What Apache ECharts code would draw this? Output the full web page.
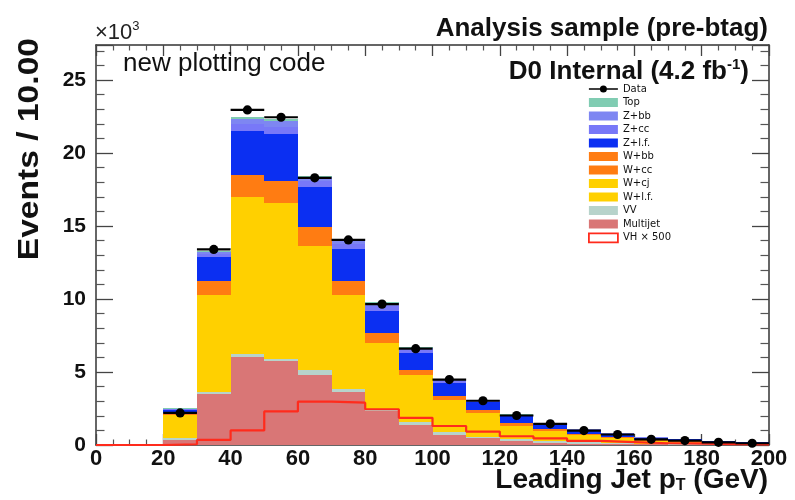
<!DOCTYPE html>
<html><head><meta charset="utf-8">
<script src="https://cdn.jsdelivr.net/npm/echarts@6/dist/echarts.min.js"></script>
<style>html,body{margin:0;padding:0;background:#fff}#c{width:795px;height:500px}</style>
</head><body><div id="c"></div>
<script>
// ---- data (units of 10^3 events per 10 GeV bin) ----
const binLow = [0,10,20,30,40,50,60,70,80,90,100,110,120,130,140,150,160,170,180,190];
const binWidth = 10;
const multijet = [0,0,0.35,3.5,6.0,5.75,4.8,3.6,2.3,1.4,0.7,0.45,0.25,0.16,0.1,0.07,0.05,0.03,0.02,0.015];
const vv       = [0,0,0.1,0.1,0.2,0.15,0.35,0.25,0.2,0.2,0.2,0.12,0.15,0.12,0.08,0.05,0.03,0.02,0.02,0.01];
const wlf      = [0,0,1.0,5.0,8.1,8.0,6.3,4.8,3.4,2.4,1.65,1.22,0.7,0.53,0.37,0.27,0.15,0.09,0.06,0.045];
const wcj      = [0,0,0.6,1.7,2.7,2.7,2.15,1.65,1.1,0.8,0.55,0.41,0.23,0.18,0.12,0.09,0.05,0.03,0.02,0.015];
const wcc      = [0,0,0.1,0.6,1.0,1.0,0.85,0.6,0.45,0.25,0.15,0.11,0.11,0.07,0.06,0.05,0.04,0.04,0.035,0.03];
const wbb      = [0,0,0.05,0.3,0.5,0.5,0.45,0.3,0.25,0.12,0.08,0.06,0.06,0.04,0.03,0.03,0.03,0.03,0.025,0.02];
const zlf      = [0,0,0.2,1.7,3.0,3.2,2.8,2.25,1.5,1.13,0.94,0.58,0.5,0.38,0.28,0.21,0.15,0.15,0.1,0.07];
const zcc      = [0,0,0.05,0.2,0.5,0.5,0.35,0.3,0.3,0.2,0.13,0.07,0.05,0.03,0.02,0.015,0.01,0.01,0.01,0.005];
const zbb      = [0,0,0.05,0.15,0.35,0.4,0.3,0.3,0.25,0.15,0.1,0.05,0.03,0.02,0.01,0.01,0.01,0.01,0.005,0.005];
const topq     = [0,0,0.02,0.05,0.1,0.1,0.05,0.05,0.05,0.05,0.05,0.03,0.02,0.01,0.01,0.005,0.01,0.01,0.005,0.005];
const dataObs  = [null,null,2.2,13.4,22.95,22.45,18.3,14.05,9.65,6.6,4.48,3.03,2.02,1.45,0.99,0.72,0.39,0.3,0.18,0.12];
const vhx500   = [0,0,0.05,0.35,1.0,2.3,2.97,2.9,2.45,1.86,1.3,0.92,0.6,0.45,0.28,0.2,0.12,0.09,0.06,0.04];
const yMax = 27.4;

// stack order bottom -> top
const stackNames = ['Multijet','VV','W+l.f.','W+cj','W+cc','W+bb','Z+l.f.','Z+cc','Z+bb','Top'];
const stackData  = [multijet, vv, wlf, wcj, wcc, wbb, zlf, zcc, zbb, topq];
const stackColors= ['#d97676','#b7d3cb','#ffd000','#ffd000','#ff7c12','#ff7c12','#0b2ff2','#7878f8','#7e86f2','#80ccb2'];
const legendOrder = ['Data','Top','Z+bb','Z+cc','Z+l.f.','W+bb','W+cc','W+cj','W+l.f.','VV','Multijet','VH \u00d7 500'];

const FONT = '"Liberation Sans", Arial, Helvetica, sans-serif';
const chart = echarts.init(document.getElementById('c'), null, {renderer:'canvas'});

// stacked histogram: each component is a custom series of [lo, hi, base, top]
const base = binLow.map(() => 0);
function histRect(params, api) {
  const p0 = api.coord([api.value(0), api.value(2)]);
  const p1 = api.coord([api.value(1), api.value(3)]);
  const x0 = Math.round(p0[0]), x1 = Math.round(p1[0]);
  const y0 = Math.round(p0[1]), y1 = Math.round(p1[1]);
  if (y0 - y1 <= 0) return null;
  return { type: 'rect', shape: { x: x0, y: y1, width: x1 - x0, height: y0 - y1 },
           style: { fill: api.visual('color') } };
}
const series = stackNames.map((n, i) => {
  const rows = binLow.map((x, b) => {
    const r = [x, x + binWidth, base[b], base[b] + stackData[i][b]];
    base[b] += stackData[i][b];
    return r;
  });
  return { name: n, type: 'custom', xAxisIndex: 0, yAxisIndex: 0, z: 2, animation: false,
    itemStyle: { color: stackColors[i] }, data: rows, renderItem: histRect };
});

// VH x 500 outline (step)
const vhLine = binLow.map((x, i) => [x, vhx500[i]]);
vhLine.push([binLow[binLow.length-1] + binWidth, vhx500[vhx500.length-1]]);
vhLine.push([binLow[binLow.length-1] + binWidth, 0]);
series.push({
  name: 'VH \u00d7 500', type: 'line', step: 'end', xAxisIndex: 0, yAxisIndex: 0,
  symbol: 'none', data: vhLine, z: 5, animation: false,
  lineStyle: { color: '#ff2b1c', width: 2.2 }, itemStyle: { color: '#ff2b1c' }
});

// Data points with horizontal bin-width bars
const dataPts = [];
binLow.forEach((x, i) => { if (dataObs[i] != null) dataPts.push([x, x + binWidth, dataObs[i]]); });
series.push({
  name: 'Data', type: 'custom', xAxisIndex: 0, yAxisIndex: 0, z: 6, animation: false,
  itemStyle: { color: '#000' },
  data: dataPts,
  renderItem: function (params, api) {
    const a = api.coord([api.value(0), api.value(2)]);
    const b = api.coord([api.value(1), api.value(2)]);
    const c = api.coord([(api.value(0) + api.value(1)) / 2, api.value(2)]);
    return { type: 'group', children: [
      { type: 'line', shape: { x1: a[0], y1: a[1], x2: b[0], y2: b[1] }, style: { stroke: '#000', lineWidth: 2.2 } },
      { type: 'circle', shape: { cx: c[0], cy: c[1], r: 4.6 }, style: { fill: '#000' } }
    ]};
  }
});

const axisLineStyle = { color: '#333', width: 1.5 };
const legendData = legendOrder.map(n => {
  if (n === 'Data') return { name: n, icon: 'path://M0,0H0.01V0.01H0Z M0,8.99H0.01V9H0Z M0,3.8H29V5.2H0Z M14.5,1A3.5,3.5,0,1,1,14.5,8A3.5,3.5,0,1,1,14.5,1Z' };
  if (n.indexOf('VH') === 0) return { name: n, icon: 'rect', itemStyle: { color: '#fff', borderColor: '#ff2b1c', borderWidth: 1.8 } };
  return { name: n, icon: 'rect' };
});

chart.setOption({
  backgroundColor: '#fff',
  animation: false,
  grid: { left: 96, right: 26, top: 45, bottom: 55, containLabel: false },
  xAxis: [
    { type: 'value', min: 0, max: 200, interval: 20, position: 'bottom',
      axisLine: { show: true, onZero: false, lineStyle: axisLineStyle },
      axisTick: { show: true, inside: true, length: 11, lineStyle: { color: '#444', width: 1.3 } },
      minorTick: { show: true, splitNumber: 4, length: 5.5, lineStyle: { color: '#555', width: 1.2 } },
      axisLabel: { show: true, margin: 3, fontFamily: FONT, fontSize: 22, fontWeight: 'bold', color: '#111' },
      splitLine: { show: false }, minorSplitLine: { show: false } },
    { type: 'value', min: 0, max: 200, interval: 20, position: 'top',
      axisLine: { show: true, onZero: false, lineStyle: axisLineStyle },
      axisTick: { show: true, inside: true, length: 11, lineStyle: { color: '#444', width: 1.3 } },
      minorTick: { show: true, splitNumber: 4, length: 5.5, lineStyle: { color: '#555', width: 1.2 } },
      axisLabel: { show: false }, splitLine: { show: false } }
  ],
  yAxis: [
    { type: 'value', min: 0, max: yMax, interval: 5, position: 'left',
      axisLine: { show: true, onZero: false, lineStyle: axisLineStyle },
      axisTick: { show: true, inside: true, length: 17, lineStyle: { color: '#444', width: 1.3 } },
      minorTick: { show: true, splitNumber: 5, length: 8.5, lineStyle: { color: '#555', width: 1.2 } },
      axisLabel: { show: true, margin: 10, fontFamily: FONT, fontSize: 21, fontWeight: 'bold', color: '#111',
        formatter: v => (Math.abs(v % 5) < 1e-9 ? String(v) : '') },
      splitLine: { show: false } },
    { type: 'value', min: 0, max: yMax, interval: 5, position: 'right',
      axisLine: { show: true, onZero: false, lineStyle: axisLineStyle },
      axisTick: { show: true, inside: true, length: 17, lineStyle: { color: '#444', width: 1.3 } },
      minorTick: { show: true, splitNumber: 5, length: 8.5, lineStyle: { color: '#555', width: 1.2 } },
      axisLabel: { show: false }, splitLine: { show: false } }
  ],
  legend: {
    orient: 'vertical', left: 588, top: 84, itemWidth: 29, itemHeight: 9, itemGap: 3.5,
    selectedMode: false, padding: 0,
    textStyle: { fontFamily: '"DejaVu Sans", sans-serif', fontSize: 10, lineHeight: 9, color: '#111' },
    data: legendData
  },
  title: [
    { text: 'Analysis sample (pre-btag)', right: 27, top: 16, padding: 0,
      textStyle: { fontFamily: FONT, fontSize: 26, fontWeight: 'bold', color: '#111', lineHeight: 26 } },
    { text: 'D0 Internal (4.2 fb{s|-1})', right: 46, top: 57, padding: 0,
      textStyle: { fontFamily: FONT, fontSize: 26, fontWeight: 'bold', color: '#111', lineHeight: 30,
        rich: { s: { fontFamily: FONT, fontSize: 15, fontWeight: 'bold', color: '#111', lineHeight: 15, verticalAlign: 'top' } } } },
    { text: 'new plotting code', left: 123, top: 51, padding: 0,
      textStyle: { fontFamily: FONT, fontSize: 26, fontWeight: 'normal', color: '#111', lineHeight: 26 } },
    { text: '\u00d710{s|3}', left: 95, top: 20, padding: 0,
      textStyle: { fontFamily: FONT, fontSize: 22, fontWeight: 'normal', color: '#222', lineHeight: 26,
        rich: { s: { fontFamily: FONT, fontSize: 13, color: '#222', lineHeight: 13, verticalAlign: 'top' } } } },
    { text: 'Leading Jet p{t|T} (GeV)', right: 27, top: 466, padding: 0,
      textStyle: { fontFamily: FONT, fontSize: 28, fontWeight: 'bold', color: '#111', lineHeight: 28,
        rich: { t: { fontFamily: FONT, fontSize: 16, fontWeight: 'bold', color: '#111', lineHeight: 16, padding: [19,0,0,0], verticalAlign: 'bottom' } } } }
  ],
  graphic: [
    { type: 'text', x: 30, y: 38, rotation: Math.PI / 2, scaleX: 1.12, z: 10,
      style: { text: 'Events / 10.00', font: 'bold 30px "Liberation Sans", Arial, sans-serif', fill: '#111',
        textAlign: 'right', textVerticalAlign: 'middle', align: 'right', verticalAlign: 'middle' } }
  ],
  series: series
});
</script>
</body></html>
